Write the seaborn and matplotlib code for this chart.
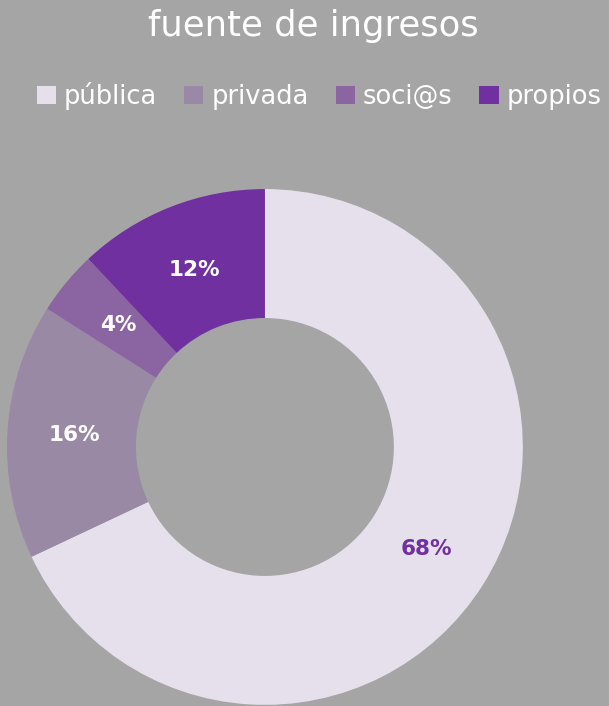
import matplotlib
matplotlib.use("Agg")
import matplotlib.pyplot as plt
import seaborn as sns

# datos
fuentes = ["pública", "privada", "soci@s", "propios"]
porcentajes = [68, 16, 4, 12]
colores = ["#e6e0ec", "#9a89a5", "#8a65a2", "#7030a0"]
color_texto = ["#7030a0", "white", "white", "white"]

fondo = "#a5a5a5"

sns.set_style("white")
plt.rcParams["font.family"] = ["DejaVu Sans"]

fig = plt.figure(figsize=(6.09, 7.06), dpi=100, facecolor=fondo)
ax = fig.add_axes([0.0115, 0.0014, 0.847, 0.731])
ax.set_facecolor(fondo)

palette = sns.color_palette(colores)
wedges, texts, autotexts = ax.pie(
    porcentajes,
    colors=palette,
    startangle=90,
    counterclock=False,
    radius=1.0,
    pctdistance=0.74,
    autopct="%1.0f%%",
    wedgeprops=dict(width=0.5, linewidth=0),
    textprops=dict(fontsize=15.5, fontweight="bold"),
)
for t, c in zip(autotexts, color_texto):
    t.set_color(c)
ax.set_xlim(-1, 1)
ax.set_ylim(-1, 1)
ax.set_aspect("equal")
ax.axis("off")

fig.text(0.514, 0.963, "fuente de ingresos", ha="center", va="center",
         fontsize=25.5, color="white")

leg = fig.legend(
    wedges, fuentes,
    loc="center", bbox_to_anchor=(0.524, 0.864), ncol=4,
    frameon=False, fontsize=18.5,
    handlelength=0.75, handleheight=0.75,
    handletextpad=0.3, columnspacing=1.05,
)
for t in leg.get_texts():
    t.set_color("white")

fig.savefig("out.png", dpi=100, facecolor=fondo)
